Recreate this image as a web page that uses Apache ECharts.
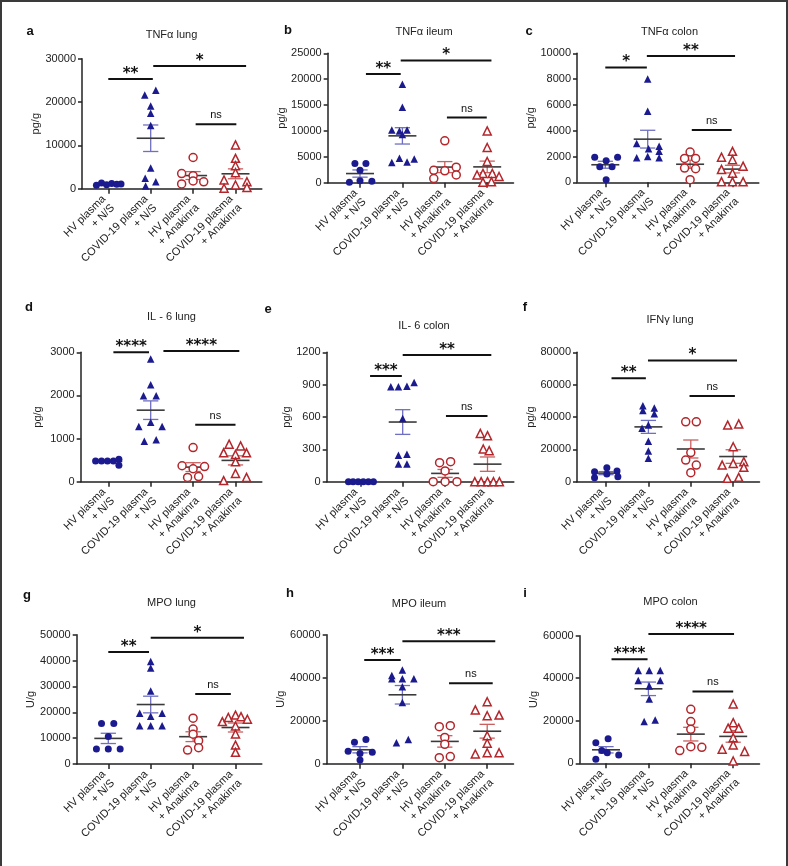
<!DOCTYPE html>
<html><head><meta charset="utf-8">
<script src="https://cdn.jsdelivr.net/npm/echarts@6/dist/echarts.min.js"></script>
<style>html,body{margin:0;padding:0;background:#fff}#c{width:788px;height:866px}</style>
</head><body><div id="c"></div>
<script>
// ---------------- DATA ----------------
const categories = ['HV plasma\n+ N/S', 'COVID-19 plasma\n+ N/S', 'HV plasma\n+ Anakinra', 'COVID-19 plasma\n+ Anakinra'];
const panelLetters = ['a','b','c','d','e','f','g','h','i'];
const panelTitles = ['TNFα lung','TNFα ileum','TNFα colon','IL - 6 lung','IL- 6 colon','IFNγ lung','MPO lung','MPO ileum','MPO colon'];
const yUnits = ['pg/g','pg/g','pg/g','pg/g','pg/g','pg/g','U/g','U/g','U/g'];
const yMax = [30000, 25000, 10000, 3000, 1200, 80000, 50000, 60000, 60000];
const yStep = [10000, 5000, 2000, 1000, 300, 20000, 10000, 20000, 20000];

// values per group: [HV+N/S, COVID+N/S, HV+Anakinra, COVID+Anakinra]
const tnfaLungValues = [
  [800, 1300, 900, 1200, 1000, 1100],
  [22700, 21600, 19100, 17400, 14600, 4800, 2400, 1600, 600],
  [7200, 3500, 3000, 1800, 1100, 1600],
  [10100, 7000, 5300, 3700, 2000, 1600, 850, 100, 300]];
const tnfaLungJitter = [
  [-0.28, -0.16, -0.04, 0.08, 0.2, 0.3],
  [0.12, -0.14, 0, 0, 0, 0, -0.13, 0.12, -0.12],
  [0, -0.27, 0, 0, -0.27, 0.25],
  [0, 0, 0, 0, -0.27, 0.27, 0, -0.27, 0.27]];
const tnfaIleumValues = [
  [3700, 3700, 2400, 100, 400, 300],
  [19000, 14600, 10200, 10000, 10200, 9300, 3900, 4700, 4000, 4600],
  [8100, 2400, 2300, 3000, 800, 1500],
  [10000, 6800, 4100, 1800, 1800, 1500, 1200, 100, 200]];
const tnfaIleumJitter = [
  [-0.12, 0.14, 0, -0.25, 0, 0.28],
  [0, 0, -0.25, -0.07, 0.11, 0, -0.25, -0.07, 0.11, 0.28],
  [0, -0.26, 0, 0.27, -0.26, 0.27],
  [0, 0, 0, -0.1, 0.12, -0.24, 0.28, -0.1, 0.1]];
const tnfaColonValues = [
  [1940, 1680, 1940, 1200, 1200, 200],
  [8000, 5500, 3000, 2800, 2600, 2400, 2000, 1900, 1900],
  [2350, 1850, 1850, 1100, 1050, 200],
  [2400, 1950, 1750, 1000, 1250, 700, 50, 50, 50]];
const tnfaColonJitter = [
  [-0.25, 0.02, 0.29, -0.13, 0.16, 0.02],
  [0, 0, -0.26, 0.27, 0.02, 0.27, 0, -0.26, 0.27],
  [0, -0.13, 0.13, -0.13, 0.13, 0],
  [0, -0.26, 0, -0.26, 0.25, 0, -0.26, 0, 0.25]];
const il6LungValues = [
  [480, 480, 480, 480, 520, 380],
  [2846, 2250, 1990, 1990, 1280, 1380, 1280, 940, 970],
  [790, 370, 350, 300, 100, 120],
  [870, 830, 670, 630, 670, 460, 190, 25, 100]];
const il6LungJitter = [
  [-0.3, -0.16, -0.02, 0.12, 0.25, 0.25],
  [0, 0, -0.17, 0.13, -0.28, 0, 0.27, -0.15, 0.13],
  [0, -0.26, 0.27, 0, -0.13, 0.13],
  [-0.15, 0.12, -0.28, 0, 0.26, 0, 0, -0.28, 0.26]];
const il6ColonValues = [
  [0, 0, 0, 0, 0, 0],
  [880, 880, 885, 920, 585, 245, 255, 165, 165],
  [176, 186, 100, 0, 0, 0],
  [448, 427, 303, 288, 0, 0, 0, 0, 0]];
const il6ColonJitter = [
  [-0.28, -0.17, -0.05, 0.07, 0.19, 0.31],
  [-0.28, -0.1, 0.1, 0.27, 0, -0.1, 0.1, -0.1, 0.1],
  [-0.13, 0.13, 0, -0.28, 0, 0.28],
  [-0.17, 0, -0.1, 0.04, -0.3, -0.15, 0, 0.14, 0.28]];
const ifngLungValues = [
  [6200, 8700, 6600, 4700, 2500, 3100],
  [47000, 45500, 44000, 42000, 35000, 33000, 25000, 19000, 14500],
  [37000, 37000, 18000, 13400, 10300, 5600],
  [35000, 35700, 21600, 10300, 11300, 12400, 8900, 2100, 2700]];
const ifngLungJitter = [
  [-0.27, 0.02, 0.26, 0.02, -0.27, 0.28],
  [-0.13, 0.14, -0.13, 0.14, 0, -0.15, 0, 0, 0],
  [-0.12, 0.13, 0, -0.12, 0.13, 0],
  [-0.13, 0.13, 0, -0.26, 0, 0.25, 0.25, -0.14, 0.13]];
const mpoLungValues = [
  [15700, 15700, 10600, 5800, 5800, 5800],
  [39600, 37100, 28200, 19600, 19600, 18500, 14800, 14800, 14800],
  [17700, 13500, 11500, 9000, 5400, 6300],
  [16400, 18000, 18900, 18300, 17300, 14700, 11600, 7300, 4500]];
const mpoLungJitter = [
  [-0.16, 0.13, 0, -0.28, 0, 0.28],
  [0, 0, 0, -0.26, 0.27, 0, -0.26, 0, 0.27],
  [0, 0, 0, 0.13, -0.13, 0.13],
  [-0.31, -0.17, 0, 0.13, 0.28, 0, 0, 0, 0]];
const mpoIleumValues = [
  [10000, 11300, 5800, 4800, 5300, 1700],
  [43600, 41000, 39500, 39500, 39500, 35800, 28500, 9800, 11300],
  [17200, 17700, 12200, 9000, 2800, 3300],
  [28800, 25000, 22300, 22600, 13000, 9500, 4500, 5100, 5100]];
const mpoIleumJitter = [
  [-0.13, 0.14, -0.28, 0, 0.29, 0],
  [0, -0.25, -0.25, 0, 0.27, 0, 0, -0.14, 0.14],
  [-0.13, 0.13, 0, 0, -0.13, 0.13],
  [0, -0.28, 0, 0.28, 0, 0, -0.28, 0, 0.28]];
const mpoColonValues = [
  [9700, 11600, 6000, 5000, 3900, 1900],
  [43600, 43600, 43600, 38900, 38900, 36400, 30200, 19600, 20400],
  [25400, 19600, 16000, 6000, 7800, 7500],
  [27900, 19100, 16500, 16500, 12000, 8600, 6600, 5600, 1100]];
const mpoColonJitter = [
  [-0.24, 0.05, -0.1, 0.03, 0.3, -0.24],
  [-0.24, 0.02, 0.28, -0.24, 0.28, 0.02, 0.02, -0.1, 0.16],
  [0, 0, 0, -0.26, 0, 0.26],
  [0, 0, -0.12, 0.13, 0, 0, -0.26, 0.27, 0]];

// significance brackets: [fromGroup, toGroup, yValue, label]
const tnfaLungSig = [[0, 1.05, 25300, '**'], [1.06, 3.25, 28300, '*'], [2.06, 3.02, 14900, 'ns']];
const tnfaIleumSig = [[0.14, 0.96, 21000, '**'], [0.96, 3.1, 23600, '*'], [2.05, 2.99, 12600, 'ns']];
const tnfaColonSig = [[0, 0.98, 8900, '*'], [0.98, 3.06, 9800, '**'], [2.04, 2.98, 4060, 'ns']];
const il6LungSig = [[0.12, 0.96, 3000, '****'], [1.3, 3.09, 3032, '****'], [2.05, 3.0, 1322, 'ns']];
const il6ColonSig = [[0.23, 0.98, 980, '***'], [1.0, 3.09, 1175, '**'], [2.02, 3.0, 609, 'ns']];
const ifngLungSig = [[0.13, 0.94, 63900, '**'], [0.99, 3.09, 75000, '*'], [1.97, 3.04, 53000, 'ns']];
const mpoLungSig = [[0, 0.96, 43300, '**'], [1.0, 3.2, 48800, '*'], [2.05, 2.89, 27100, 'ns']];
const mpoIleumSig = [[0.1, 0.96, 48200, '***'], [1.0, 3.19, 56900, '***'], [2.1, 3.13, 37400, 'ns']];
const mpoColonSig = [[0.13, 0.98, 48900, '****'], [1.0, 3.02, 60800, '****'], [2.04, 3.0, 33800, 'ns']];

const panelValues = [tnfaLungValues, tnfaIleumValues, tnfaColonValues, il6LungValues, il6ColonValues, ifngLungValues, mpoLungValues, mpoIleumValues, mpoColonValues];
const panelJitter = [tnfaLungJitter, tnfaIleumJitter, tnfaColonJitter, il6LungJitter, il6ColonJitter, ifngLungJitter, mpoLungJitter, mpoIleumJitter, mpoColonJitter];
const panelSig = [tnfaLungSig, tnfaIleumSig, tnfaColonSig, il6LungSig, il6ColonSig, ifngLungSig, mpoLungSig, mpoIleumSig, mpoColonSig];

// ---------------- LAYOUT / STYLE ----------------
// [yAxisX, firstCategoryX, topTickY, zeroY, titleX, titleY, letterX, letterY, unitCenterX]
const layout = [
  [82, 108.3, 58.7, 188.7, 171.5, 35, 30, 31, 35],
  [327.7, 360, 53.3, 182.7, 424, 32, 288, 30, 285],
  [577, 605.3, 53.3, 182.3, 669.5, 32, 529, 31, 532],
  [80.7, 108.3, 352.3, 481.7, 171.5, 317, 29, 307, 36.7],
  [326.7, 360.3, 352.3, 481.7, 424, 326, 268, 309, 288.3],
  [577, 606, 352.3, 481.7, 670, 320, 525, 307, 532],
  [76.7, 108.3, 634.7, 764, 171.5, 603, 27, 595, 35],
  [326.7, 360, 634.7, 763.7, 419, 604, 290, 593, 285],
  [579.7, 606, 635.7, 763.3, 670.5, 602, 525, 593, 533.7]
];
const SP = 42.4, XMAX = 3.62;
const FONT = "'Liberation Sans', Arial, Helvetica, sans-serif";
const BLUE = '#1b1b8f', RED = '#b3262b';
const groupStyle = [
  {symbol: 'circle', size: 7, fill: BLUE, stroke: BLUE, err: '#6f6fc2'},
  {symbol: 'triangle', size: 7.5, fill: BLUE, stroke: BLUE, err: '#6f6fc2'},
  {symbol: 'circle', size: 8, fill: '#fff', stroke: RED, err: '#c95f5f'},
  {symbol: 'triangle', size: 8, fill: '#fff', stroke: RED, err: '#c95f5f'}
];

function meanSem(arr) {
  const n = arr.length;
  const m = arr.reduce((a, b) => a + b, 0) / n;
  const sd = Math.sqrt(arr.reduce((a, b) => a + (b - m) * (b - m), 0) / (n - 1));
  return [m, sd / Math.sqrt(n)];
}

const grids = [], xAxes = [], yAxes = [], series = [], graphics = [];

graphics.push({type: 'rect', shape: {x: 1, y: 1, width: 786, height: 890}, style: {fill: 'none', stroke: '#3a3a3a', lineWidth: 2}, silent: true});

for (let p = 0; p < 9; p++) {
  const L = layout[p];
  const axisX = L[0], cat0 = L[1], top = L[2], zero = L[3];
  const xMin = -(cat0 - axisX) / SP;
  const width = cat0 + XMAX * SP - axisX;
  grids.push({left: axisX, top: top, width: width, height: zero - top, containLabel: false, outerBoundsMode: 'none'});
  xAxes.push({
    type: 'value', gridIndex: p, min: xMin, max: XMAX,
    splitLine: {show: false},
    axisLine: {show: true, onZero: false, lineStyle: {color: '#222', width: 1.5}},
    axisTick: {show: true, customValues: [0, 1, 2, 3], length: 5, lineStyle: {color: '#222', width: 1.5}},
    axisLabel: {show: true, customValues: [0, 1, 2, 3], formatter: v => categories[Math.round(v)] || '',
      rotate: 45, fontSize: 11, lineHeight: 12.5, color: '#222', fontFamily: FONT, margin: 13, align: 'right'}
  });
  const nameGap = axisX - L[8] - 6.5;
  yAxes.push({
    type: 'value', gridIndex: p, min: 0, max: yMax[p], interval: yStep[p],
    name: yUnits[p], nameLocation: 'middle', nameGap: nameGap, nameRotate: 90,
    nameTextStyle: {fontSize: 11, color: '#222', fontFamily: FONT},
    splitLine: {show: false},
    axisLine: {show: true, onZero: false, lineStyle: {color: '#222', width: 1.5}},
    axisTick: {show: true, length: 4, lineStyle: {color: '#222', width: 1.5}},
    axisLabel: {fontSize: 11, color: '#222', fontFamily: FONT, margin: 6, formatter: v => String(v)}
  });

  const vals = panelValues[p], jit = panelJitter[p];
  const stats = [];
  for (let g = 0; g < 4; g++) {
    const st = groupStyle[g];
    series.push({
      type: 'scatter', xAxisIndex: p, yAxisIndex: p, z: 4,
      symbol: st.symbol, symbolSize: st.size,
      itemStyle: {color: st.fill, borderColor: st.stroke, borderWidth: g >= 2 ? 1.5 : 0, opacity: 1},
      data: vals[g].map((v, i) => [g + jit[g][i], v]),
      silent: true, animation: false
    });
    const ms = meanSem(vals[g]);
    stats.push([g, ms[0], ms[1]]);
  }
  series.push({
    type: 'custom', xAxisIndex: p, yAxisIndex: p, z: 3, silent: true, animation: false, clip: false,
    data: stats,
    renderItem: function (params, api) {
      const c = api.value(0), m = api.value(1), s = api.value(2);
      const col = groupStyle[c].err;
      const ml = api.coord([c - 0.33, m]), mr = api.coord([c + 0.33, m]);
      const t = api.coord([c, m + s]), b = api.coord([c, m - s]);
      const cl = api.coord([c - 0.18, m])[0], cr = api.coord([c + 0.18, m])[0];
      return {type: 'group', children: [
        {type: 'line', shape: {x1: t[0], y1: t[1], x2: b[0], y2: b[1]}, style: {stroke: col, lineWidth: 1.3}},
        {type: 'line', shape: {x1: cl, y1: t[1], x2: cr, y2: t[1]}, style: {stroke: col, lineWidth: 1.3}},
        {type: 'line', shape: {x1: cl, y1: b[1], x2: cr, y2: b[1]}, style: {stroke: col, lineWidth: 1.3}},
        {type: 'line', shape: {x1: ml[0], y1: ml[1], x2: mr[0], y2: mr[1]}, style: {stroke: '#3a3a3a', lineWidth: 1.6}}
      ]};
    }
  });
  series.push({
    type: 'custom', xAxisIndex: p, yAxisIndex: p, z: 5, silent: true, animation: false, clip: false,
    data: panelSig[p].map(s => [s[0], s[2], s[1]]),
    renderItem: function (params, api) {
      const x1 = api.value(0), y = api.value(1), x2 = api.value(2);
      const lab = panelSig[p][params.dataIndex][3];
      const a = api.coord([x1, y]), b = api.coord([x2, y]);
      const isNs = lab === 'ns';
      return {type: 'group', children: [
        {type: 'line', shape: {x1: a[0], y1: a[1], x2: b[0], y2: b[1]}, style: {stroke: '#111', lineWidth: 2}},
        {type: 'text', style: {text: lab, x: (a[0] + b[0]) / 2, y: a[1] - (isNs ? 9 : 5),
          align: 'center', verticalAlign: 'middle', fill: '#111',
          fontSize: isNs ? 11 : 15, fontWeight: isNs ? 'normal' : 'bold',
          fontFamily: isNs ? FONT : "'DejaVu Sans', sans-serif"}}
      ]};
    }
  });

  graphics.push({type: 'text', x: L[4], y: L[5], silent: true,
    style: {text: panelTitles[p], align: 'center', verticalAlign: 'middle', fontSize: 11, fill: '#222', fontFamily: FONT}});
  graphics.push({type: 'text', x: L[6], y: L[7], silent: true,
    style: {text: panelLetters[p], align: 'center', verticalAlign: 'middle', fontSize: 13, fontWeight: 'bold', fill: '#111', fontFamily: FONT}});
}

const chart = echarts.init(document.getElementById('c'), null, {renderer: 'canvas'});
chart.setOption({
  backgroundColor: '#fff',
  animation: false,
  grid: grids, xAxis: xAxes, yAxis: yAxes, series: series,
  graphic: graphics
});
</script>
</body></html>
